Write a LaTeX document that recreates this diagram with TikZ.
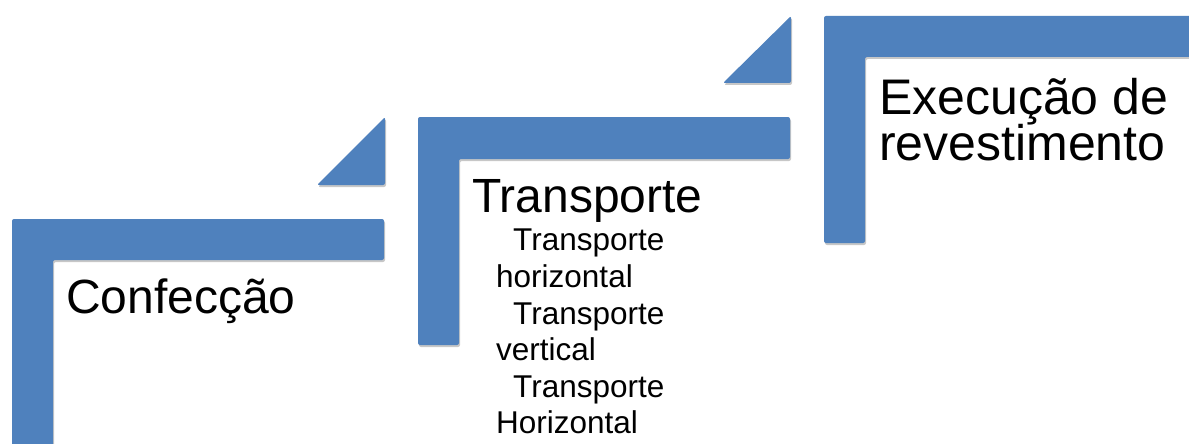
\documentclass[tikz,border=0pt]{standalone}
\usepackage{fontspec}
\setmainfont{Liberation Sans}
\usetikzlibrary{shadows}
\definecolor{stepblue}{HTML}{4F81BD}
\begin{document}
\begin{tikzpicture}[x=1pt,y=-1pt,
  bar/.style={fill=stepblue, draw=none, rounded corners=2pt,
    drop shadow={shadow xshift=1pt, shadow yshift=-2pt, opacity=0.22, fill=black}},
  big/.style={anchor=base west, inner sep=0pt, font=\fontsize{48}{48}\selectfont},
  huge/.style={anchor=base west, inner sep=0pt, font=\fontsize{50}{50}\selectfont},
  small/.style={anchor=base west, inner sep=0pt, font=\fontsize{31.5}{31.5}\selectfont}]
\useasboundingbox[fill=white] (0,0) rectangle (1189,444);
% step 1
\path[bar] (12,219) -- (384,219) -- (384,260) -- (53,260) -- (53,460) -- (12,460) -- cycle;
\path[bar] (317,185) -- (385,117) -- (385,185) -- cycle;
% step 2
\path[bar] (418,117) -- (790,117) -- (790,159) -- (459,159) -- (459,345) -- (418,345) -- cycle;
\path[bar] (723,83) -- (791,16) -- (791,83) -- cycle;
% step 3
\path[bar] (824,16) -- (1210,16) -- (1210,57) -- (865,57) -- (865,243) -- (824,243) -- cycle;
% texts
\node[big] (conf) at (66,313) {Confecção};
\node[big] (trans) at (472,212) {Transporte};
\node[small] (t1a) at (513,250) {Transporte};
\node[small] (t1b) at (496,287) {horizontal};
\node[small] (t2a) at (513,324) {Transporte};
\node[small] (t2b) at (496,360) {vertical};
\node[small] (t3a) at (513,397) {Transporte};
\node[small] (t3b) at (496,433) {Horizontal};
\node[huge] (exec1) at (879,114) {Execução de};
\node[huge] (exec2) at (879,160) {revestimento};
\end{tikzpicture}
\end{document}
